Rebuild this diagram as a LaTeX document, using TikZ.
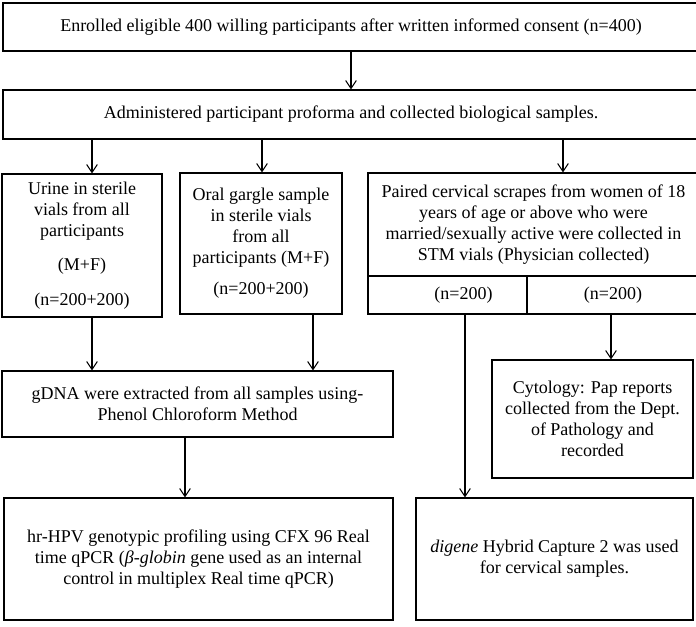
\documentclass[tikz,border=0pt]{standalone}
\usepackage{fontspec}
\setmainfont{Liberation Serif}
\usetikzlibrary{arrows.meta}
\begin{document}
\begin{tikzpicture}[x=0.75pt, y=-0.75pt,
    box/.style={draw, line width=0.8pt, inner sep=0pt, align=center,
      font=\fontsize{13.5}{15.75}\selectfont},
    arr/.style={-{Straight Barb[length=6pt,width=8pt]}, line width=0.8pt}]
  \useasboundingbox (0,0) rectangle (696,627);
  % top of the chart
  \node[box, minimum width=522pt, minimum height=36pt] (enr) at (351,27)
    {Enrolled eligible 400 willing participants after written informed consent (n=400)};
  \node[box, minimum width=522pt, minimum height=36.75pt] (adm) at (351,114.5)
    {Administered participant proforma and collected biological samples.};
  % sample columns
  \node[box, minimum width=120pt, minimum height=107.25pt] (uri) at (82,245.5)
    {Urine in sterile\\vials from all\\participants\\[10pt](M+F)\\[10pt](n=200+200)};
  \node[box, minimum width=121.5pt, minimum height=105.75pt] (ora) at (261,243.5)
    {Oral gargle sample\\in sterile vials\\from all\\participants (M+F)\\[7.5pt](n=200+200)};
  \node[box, minimum width=248.25pt, minimum height=77.25pt] (cer) at (533.5,224.5)
    {Paired cervical scrapes from women of 18\\years of age or above who were\\married/sexually active were collected in\\STM vials (Physician collected)};
  \node[box, minimum width=119.25pt, minimum height=28.5pt] (cel) at (447.5,295)
    {\hspace*{24pt}(n=200)};
  \node[box, minimum width=129pt, minimum height=28.5pt] (cre) at (613,295)
    {(n=200)};
  % lab work
  \node[box, minimum width=293.25pt, minimum height=49.5pt] (gdn) at (197.5,404)
    {gDNA were extracted from all samples using-\\Phenol Chloroform Method};
  \node[box, minimum width=291.75pt, minimum height=91.5pt] (hpv) at (198.5,559)
    {hr-HPV genotypic profiling using CFX 96 Real\\time qPCR (\textit{β-globin} gene used as an internal\\control in multiplex Real time qPCR)};
  \node[box, minimum width=150.75pt, minimum height=88.5pt] (cyt) at (592.5,419)
    {Cytology: Pap reports\\collected from the Dept.\\of Pathology and\\recorded};
  \node[box, minimum width=207.75pt, minimum height=91.5pt] (dig) at (554.5,559)
    {\textit{digene} Hybrid Capture 2 was used\\for cervical samples.};
  % arrow columns
  \coordinate (xa) at (92,0);
  \coordinate (xb) at (262,0);
  \coordinate (xc) at (563,0);
  \coordinate (xd) at (313,0);
  \coordinate (xe) at (185,0);
  \coordinate (xf) at (465,0);
  \coordinate (xg) at (611,0);
  \draw[arr] (enr) -- (adm);
  \draw[arr] (adm.south -| xa) -- (uri.north -| xa);
  \draw[arr] (adm.south -| xb) -- (ora.north -| xb);
  \draw[arr] (adm.south -| xc) -- (cer.north -| xc);
  \draw[arr] (uri.south -| xa) -- (gdn.north -| xa);
  \draw[arr] (ora.south -| xd) -- (gdn.north -| xd);
  \draw[arr] (gdn.south -| xe) -- (hpv.north -| xe);
  \draw[arr] (cel.south -| xf) -- (dig.north -| xf);
  \draw[arr] (cre.south -| xg) -- (cyt.north -| xg);
\end{tikzpicture}
\end{document}
